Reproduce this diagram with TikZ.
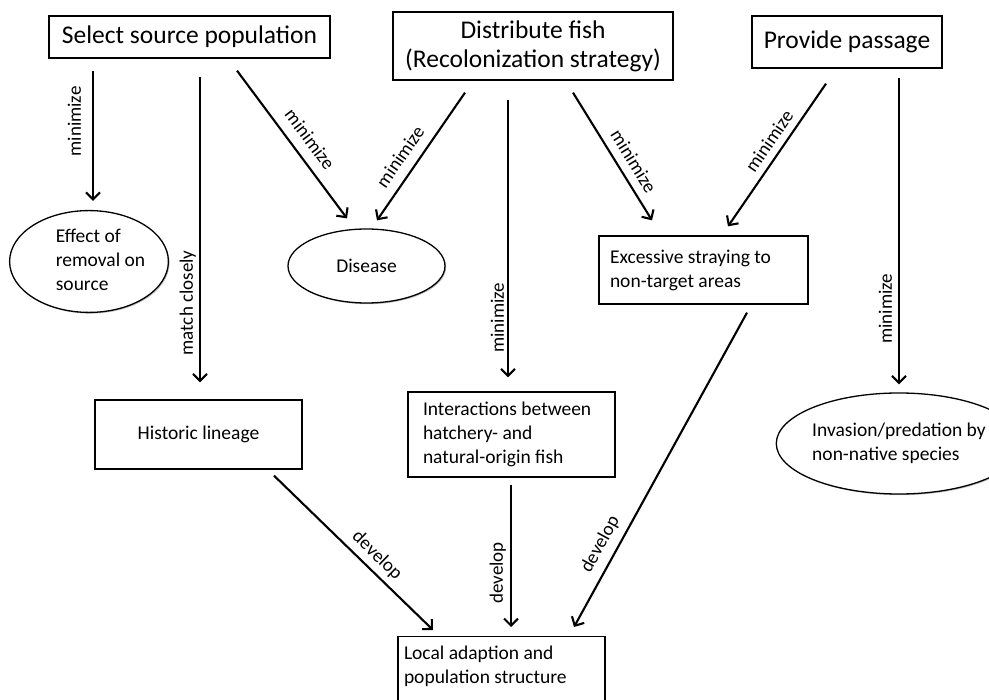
\documentclass[tikz,border=0pt]{standalone}
\usepackage{fontspec}
\setmainfont{Carlito}
\usetikzlibrary{arrows.meta,shapes.geometric,shadows}
\begin{document}
\begin{tikzpicture}[x=1pt,y=-1pt,
  shd/.style={drop shadow={shadow xshift=1.2pt,shadow yshift=-1.2pt,opacity=0.25,fill=black}},
  box/.style={draw, line width=1.3pt, rectangle, inner sep=0pt, fill=white, shd},
  oval/.style={draw, line width=1.3pt, ellipse, inner sep=0pt, fill=white, shd},
  big/.style={font=\fontsize{25.5}{29}\selectfont},
  small/.style={font=\fontsize{19.5}{24}\selectfont},
  arr/.style={line width=2.1pt, -{Straight Barb[length=7pt,width=14pt,line width=2.1pt]}},
  lab/.style={font=\fontsize{19}{22}\selectfont, inner xsep=0pt},
  vlab/.style={lab, rotate=90, anchor=south},
  dlab/.style={lab, sloped, anchor=south},
]
\useasboundingbox (0,0) rectangle (989,700);

% top boxes
\node[box,big,minimum width=281pt,minimum height=42pt] (sel) at (189.5,37) {Select source population};
\node[box,big,minimum width=280pt,minimum height=68pt,align=center] (dist) at (533,46) {Distribute fish\\(Recolonization strategy)};
\node[box,big,minimum width=190pt,minimum height=52pt] (pass) at (847,42) {Provide passage};

% middle row
\node[oval,small,minimum width=157pt,minimum height=81pt] (eff) at (89,261.5)
  {\hspace*{23pt}\begin{tabular}{@{}l@{}}Effect of\\removal on\\source\end{tabular}};
\node[oval,small,minimum width=157pt,minimum height=74pt] (dis) at (366.5,266) {Disease};
\node[box,small,minimum width=209pt,minimum height=68pt] (exc) at (703.5,270)
  {\parbox{187pt}{\raggedright Excessive straying to\\non-target areas}};

% lower row
\node[box,small,minimum width=207pt,minimum height=69pt] (hist) at (198.5,434.5) {Historic lineage};
\node[box,small,minimum width=207pt,minimum height=85pt] (inter) at (511.5,434.5)
  {\parbox{177pt}{\raggedright Interactions between\\hatchery- and\\natural-origin fish}};
\node[oval,small,minimum width=206pt,minimum height=101pt,align=left] (inv) at (899,443.5)
  {Invasion/predation by\\non-native species};

% bottom box
\node[box,small,anchor=north,inner xsep=6pt,inner ysep=9pt] (loc) at (501.5,636)
  {\parbox[t][80pt][t]{195pt}{\raggedright Local adaption and\\population structure}};

% connectors
\draw[arr] ([shift={(-96.5,12)}]sel.south) -- node[vlab,pos=0.39,inner ysep=11pt]{minimize} ([shift={(4,-9)}]eff.north);
\draw[arr] ([shift={(10.5,18)}]sel.south) -- node[vlab,pos=0.74,inner ysep=3pt]{match closely} ([shift={(1.5,-17)}]hist.north);
\draw[arr] ([shift={(47.5,12)}]sel.south) -- node[dlab,pos=0.535,inner ysep=10pt]{minimize} ([shift={(-19.5,-10)}]dis.north);
\draw[arr] ([shift={(-68,12)}]dist.south) -- node[dlab,pos=0.577,inner ysep=9.5pt]{minimize} ([shift={(10.5,-8)}]dis.north);
\draw[arr] ([shift={(-25,19)}]dist.south) -- node[vlab,pos=0.785,inner ysep=3pt]{minimize} ([shift={(-3.5,-14)}]inter.north);
\draw[arr] ([shift={(40,12)}]dist.south) -- node[dlab,pos=0.6,inner ysep=8pt]{minimize} ([shift={(-51.5,-15)}]exc.north);
\draw[arr] ([shift={(-21,15)}]pass.south) -- node[dlab,pos=0.46,inner ysep=6.7pt]{minimize} ([shift={(24.5,-9)}]exc.north);
\draw[arr] ([shift={(52,9)}]pass.south) -- node[vlab,pos=0.753,inner ysep=6pt]{minimize} ([shift={(0,-8)}]inv.north);
\draw[arr] ([shift={(75.5,6)}]hist.south) -- node[dlab,pos=0.585,inner ysep=5pt]{develop} ([shift={(-68.5,-6)}]loc.north);
\draw[arr] ([shift={(-0.5,7)}]inter.south) -- node[vlab,pos=0.62,inner ysep=4pt]{develop} ([shift={(9.5,-9)}]loc.north);
\draw[arr] ([shift={(43.5,8)}]exc.south) -- node[dlab,pos=0.763,inner ysep=7.4pt]{develop} ([shift={(72.5,-9)}]loc.north);
\end{tikzpicture}
\end{document}
